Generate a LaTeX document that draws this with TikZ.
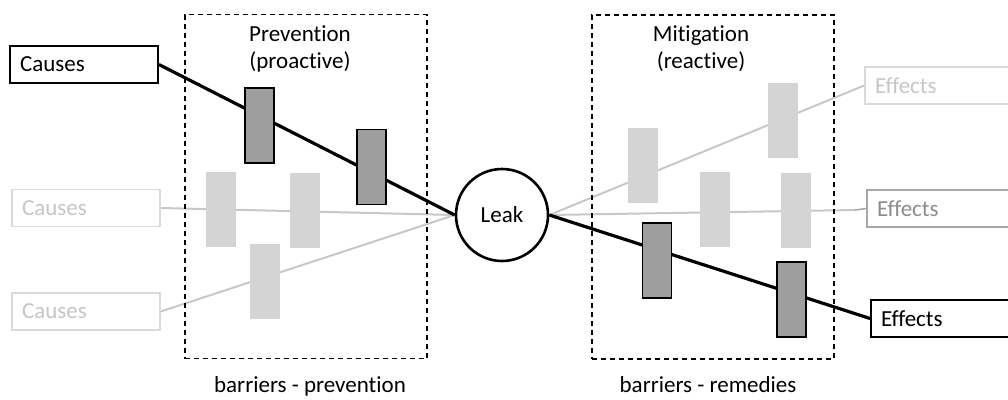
\documentclass[tikz,border=0pt]{standalone}
\usepackage{fontspec}
\setmainfont{Carlito}[Ligatures={NoCommon}]
\usetikzlibrary{backgrounds}
\definecolor{darkfill}{RGB}{158,158,158}
\definecolor{lightfill}{RGB}{212,212,212}
\definecolor{lightline}{RGB}{200,200,200}
\definecolor{lightborder}{RGB}{218,218,218}
\definecolor{lighttext}{RGB}{198,198,198}
\definecolor{midborder}{RGB}{168,168,168}
\definecolor{midtext}{RGB}{140,140,140}
\tikzset{
  txt/.style={font=\fontsize{23}{27}\selectfont},
  endbox/.style={txt, rectangle, minimum width=148pt, minimum height=37pt, inner xsep=10pt, inner ysep=0pt, text width=128pt, align=left},
  boldbox/.style={endbox, draw=black, line width=1.8pt, fill=white},
  faintbox/.style={endbox, draw=lightborder, line width=1.4pt, text=lighttext, fill=white},
  midbox/.style={endbox, draw=midborder, line width=1.4pt, text=midtext, fill=white},
  darkbar/.style={rectangle, draw=black, line width=1.6pt, fill=darkfill, minimum width=29pt, minimum height=75pt, inner sep=0pt},
  lightbar/.style={rectangle, fill=lightfill, minimum width=30pt, minimum height=75pt, inner sep=0pt},
  frame/.style={rectangle, draw=black, line width=1.8pt, dash pattern=on 5pt off 4pt, minimum width=242pt, minimum height=344pt, inner sep=0pt},
  darkline/.style={line width=3.2pt, black},
  faintline/.style={line width=2pt, lightline},
  leakcirc/.style={txt, circle, draw=black, line width=2.6pt, fill=white, minimum size=92pt, inner sep=0pt}
}
\begin{document}
\begin{tikzpicture}[x=1pt,y=-1pt]
\useasboundingbox (0,0) rectangle (1008,399);
% frames and titles
\node[frame] (prevframe) at (306,186.5) {};
\node[frame] (mitframe) at (713,187) {};
\node[txt, align=center] (prevtitle) at (300,49) {Prevention\\(proactive)};
\node[txt, align=center] (mittitle) at (701,49) {Mitigation\\(reactive)};
\node[txt, anchor=base] (prevcap) at (310,392) {barriers - prevention};
\node[txt, anchor=base] (mitcap) at (708,392) {barriers - remedies};
% end boxes
\node[boldbox] (c1) at (84,64.5) {Causes};
\node[faintbox] (c2) at (86,208) {Causes};
\node[faintbox] (c3) at (86,311.5) {Causes};
\node[faintbox] (e1) at (939,85.5) {Effects};
\node[midbox] (e2) at (941,208.5) {Effects};
\node[boldbox] (e3) at (945,318.5) {Effects};
% top event
\node[leakcirc] (leak) at (502,215) {Leak};
% barriers
\node[lightbar] (l3) at (221,209.5) {};
\node[lightbar] (l4) at (304.5,210.5) {};
\node[lightbar] (l5) at (264.5,281) {};
\node[lightbar] (r1) at (642.5,165) {};
\node[lightbar] (r2) at (715,209) {};
\node[lightbar] (r3) at (782.5,120.5) {};
\node[lightbar] (r4) at (796,210.5) {};
\node[darkbar] (l1) at (259.5,125.5) {};
\node[darkbar] (l2) at (371.5,167) {};
\node[darkbar] (r5) at (657,260.5) {};
\node[darkbar] (r6) at (791.5,299.5) {};
\coordinate (tick) at (855,210);
% connectors
\begin{scope}[on background layer]
\draw[faintline] (c2.east) -- (leak.west);
\draw[faintline] (c3.east) -- (leak.west);
\draw[faintline] (leak.east) -- (e1.west);
\draw[faintline] (leak.east) -- (tick);
\draw[line width=1.6pt, midborder] (tick) -- (e2.west);
\draw[darkline] (c1.east) -- (leak.west);
\draw[darkline] (leak.east) -- (e3.west);
\end{scope}
\end{tikzpicture}
\end{document}
